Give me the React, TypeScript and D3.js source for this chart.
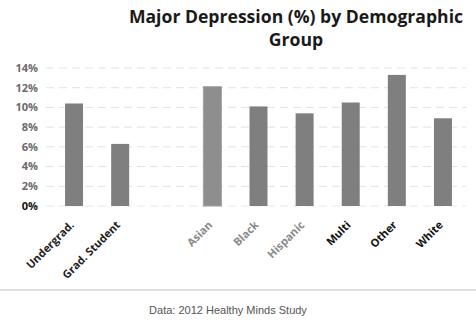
import React from "react";
import * as d3 from "d3";

const categories = ["Undergrad.", "Grad. Student", "Asian", "Black", "Hispanic", "Multi", "Other", "White"];
const slots = ["Undergrad.", "Grad. Student", "_gap", "Asian", "Black", "Hispanic", "Multi", "Other", "White"];
const values = [10.4, 6.3, 12.1, 10.1, 9.4, 10.5, 13.3, 8.9];
const yTicks = [0, 2, 4, 6, 8, 10, 12, 14];
const labelColors = ["#222", "#222", "#8a8a8a", "#8a8a8a", "#8a8a8a", "#111", "#111", "#111"];

export default function App() {
  const W = 476, H = 320;
  const x = d3.scaleBand<string>().domain(slots).range([51, 466]).paddingInner(0.61).paddingOuter(0.305);
  const y = d3.scaleLinear().domain([0, 14]).range([206, 68]);
  const font = "'Open Sans', 'DejaVu Sans', sans-serif";
  return (
    <svg width={W} height={H} style={{ position: "absolute", left: 0, top: 0, background: "#fff" }}>
      <rect width={W} height={H} fill="#fff" />
      <text x={296} y={23} textAnchor="middle" fontFamily={font} fontWeight="bold" fontSize={17.6} fill="#1a1a1a">
        Major Depression (%) by Demographic
      </text>
      <text x={296} y={46} textAnchor="middle" fontFamily={font} fontWeight="bold" fontSize={17.6} fill="#1a1a1a">
        Group
      </text>
      {yTicks.map((t) => (
        <g key={t}>
          {t > 0 && (
            <line x1={46} x2={466} y1={y(t)} y2={y(t)} stroke="#e2e2e2" strokeWidth={1} strokeDasharray="8,5" />
          )}
          <text x={38} y={y(t)} dy="0.35em" textAnchor="end" fontFamily={font} fontWeight="bold" fontSize={11}
            fill={t === 0 ? "#111" : "#6a6a6a"}>
            {t}%
          </text>
        </g>
      ))}
      <line x1={46} x2={466} y1={y(0)} y2={y(0)} stroke="#e8e8e8" strokeWidth={1} strokeDasharray="8,5" />
      {categories.map((c, i) => (
        <rect key={c} x={x(c)} y={y(values[i])} width={x.bandwidth()} height={y(0) - y(values[i])}
          fill={c === "Asian" ? "#8e8e8e" : "#7f7f7f"} stroke={c === "Asian" ? "#a0a0a0" : "none"} />
      ))}
      {categories.map((c, i) => {
        const cx = (x(c) as number) + x.bandwidth() / 2 - 2;
        return (
          <text key={c} transform={`translate(${cx},${223}) rotate(-45)`} textAnchor="end" dy="0.35em"
            fontFamily={font} fontWeight="bold" fontSize={11} fill={labelColors[i]}>
            {c}
          </text>
        );
      })}
      <line x1={0} x2={476} y1={290} y2={290} stroke="#d6d6d6" strokeWidth={1.5} />
      <text x={228} y={314} textAnchor="middle" fontFamily="'Liberation Sans', Arial, sans-serif" fontSize={11}
        fill="#555">
        Data: 2012 Healthy Minds Study
      </text>
    </svg>
  );
}
